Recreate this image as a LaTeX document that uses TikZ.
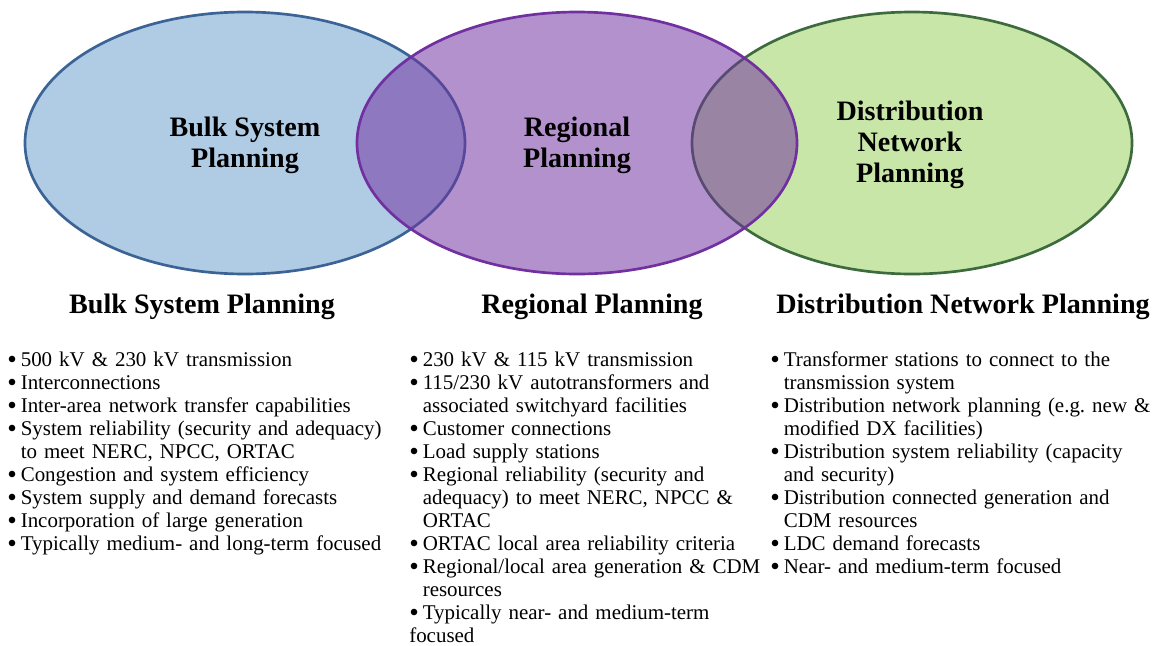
\documentclass[tikz,border=0pt]{standalone}
\usepackage{fontspec}
\usepackage{graphicx}
\setmainfont{Liberation Serif}
\usetikzlibrary{positioning}

\definecolor{bulkfill}{HTML}{B0CBE4}
\definecolor{bulkline}{HTML}{3B6396}
\definecolor{regline}{HTML}{7030A0}
\definecolor{distfill}{HTML}{C8E6A8}
\definecolor{distline}{HTML}{3E6B3E}

\newcommand{\planitem}[1]{\par\noindent\hangindent=9.6pt\hangafter=1%
	\makebox[9.6pt][l]{\raisebox{-1.9pt}{\scalebox{1.3}{\textbullet}}}#1}

\tikzset{ring/.style={line width=1.9pt},
	ringlabel/.style={align=center,font=\bfseries\fontsize{20}{22}\selectfont},
	colhead/.style={anchor=base,font=\bfseries\fontsize{20}{22}\selectfont},
	collist/.style={anchor=north west,inner sep=0pt,text width=300pt,align=left,
		font=\fontsize{14.9}{16.35}\selectfont},
}

\begin{document}
\begin{tikzpicture}[x=0.025cm,y=-0.025cm]
	\useasboundingbox (0,0) rectangle (1156,645);
	% the three planning areas
	\draw[ring,bulkline,fill=bulkfill] (245,143) ellipse (220 and 131);
	\draw[ring,distline,fill=distfill] (912,143) ellipse (220 and 131);
	\fill[regline,fill opacity=0.53] (577,143) ellipse (220 and 131);
	\draw[ring,regline] (577,143) ellipse (220 and 131);
	
	\node[ringlabel] (bulk) at (245,145) {Bulk System\\Planning};
	\node[ringlabel] (regional) at (577,145) {Regional\\Planning};
	\node[ringlabel] (dist) at (910,145) {Distribution\\Network\\Planning};
	
	% headings
	\node[colhead] (bulkhead) at (202,313) {Bulk System Planning};
	\node[colhead] (regionalhead) at (592,313) {Regional Planning};
	\node[colhead] (disthead) at (963,313) {Distribution Network Planning};
	
	% lists
	\node[collist] (bulklist) at (7,343) {%
		\planitem{500 kV \& 230 kV transmission}
		\planitem{Interconnections}
		\planitem{Inter-area network transfer capabilities}
		\planitem{System reliability (security and adequacy)\newline to meet NERC, NPCC, ORTAC}
		\planitem{Congestion and system efficiency}
		\planitem{System supply and demand forecasts}
		\planitem{Incorporation of large generation}
		\planitem{Typically medium- and long-term focused}};
	\node[collist] (regionallist) at (409,343) {%
		\planitem{230 kV \& 115 kV transmission}
		\planitem{115/230 kV autotransformers and\newline associated switchyard facilities}
		\planitem{Customer connections}
		\planitem{Load supply stations}
		\planitem{Regional reliability (security and\newline adequacy) to meet NERC, NPCC \&\newline ORTAC}
		\planitem{ORTAC local area reliability criteria}
		\planitem{Regional/local area generation \& CDM\newline resources}
		\planitem{Typically near- and medium-term\newline focused}};
	\node[collist] (distlist) at (770,343) {%
		\planitem{Transformer stations to connect to the\newline transmission system}
		\planitem{Distribution network planning (e.g.\ new \&\newline modified DX facilities)}
		\planitem{Distribution system reliability (capacity\newline and security)}
		\planitem{Distribution connected generation and\newline CDM resources}
		\planitem{LDC demand forecasts}
		\planitem{Near- and medium-term focused}};
\end{tikzpicture}
\end{document}
